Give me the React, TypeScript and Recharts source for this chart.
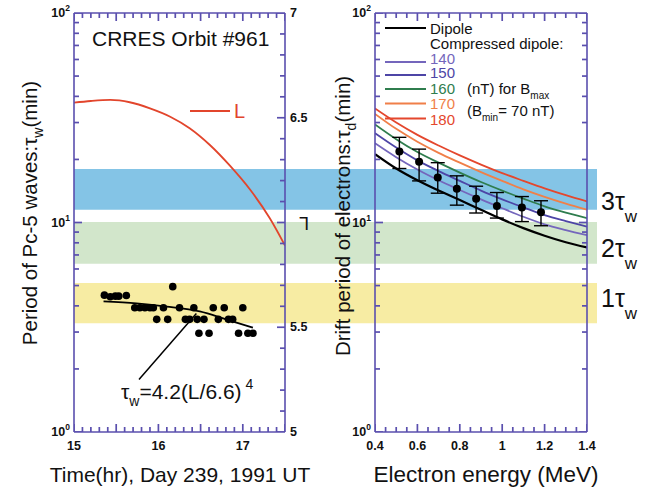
import React from 'react';
import { ComposedChart, Line, Scatter, XAxis, YAxis, ReferenceArea, ErrorBar } from 'recharts';

const W = 666;
const H = 493;
const FONT = '"Liberation Sans", Arial, Helvetica, sans-serif';
const AXIS = '#5a4fae';
const ORBIT_COLOR = '#e2452c';

// shaded ranges: 1, 2 and 3 wave periods (min)
const bandLow = [3.3, 6.35, 11.5];
const bandHigh = [5.15, 10.05, 18.0];
const bandColors = ['#f7eca3', '#d2e6cb', '#84c4e6'];
const bandTexts = ['1', '2', '3'];

// left panel: L value along CRRES orbit #961
const orbitTime = [15.0, 15.2, 15.43, 15.66, 15.9, 16.14, 16.37, 16.61, 16.85, 17.09, 17.32, 17.5];
const orbitL = [6.572, 6.58, 6.585, 6.574, 6.545, 6.505, 6.45, 6.37, 6.27, 6.155, 6.02, 5.89];

// observed Pc-5 wave periods (min)
const waveTime = [
  15.36, 15.43, 15.49, 15.53, 15.62,
  16.17,
  15.72, 15.78, 15.84, 15.9, 15.94, 16.06, 16.25, 16.42, 16.65, 16.78, 17.0,
  15.98, 16.11, 16.32, 16.37, 16.46, 16.54, 16.71, 16.83, 16.88,
  16.48, 16.6, 16.95, 17.06, 17.12,
];
const wavePeriod = [
  4.5, 4.42, 4.45, 4.45, 4.48,
  4.94,
  3.92, 3.92, 3.92, 3.92, 3.92, 3.92, 3.92, 3.92, 3.92, 3.92, 3.92,
  3.45, 3.45, 3.45, 3.45, 3.45, 3.45, 3.45, 3.45, 3.45,
  2.96, 2.96, 2.96, 2.96, 2.96,
];

// fit tau_w = 4.2 (L/6.6)^4
const fitTime = [15.35, 15.74, 16.1, 16.49, 16.81, 17.12];
const fitPeriod = [4.2, 4.11, 3.97, 3.76, 3.44, 3.15];

// leader line from the fit to its formula
const leaderTime = [16.45, 15.77];
const leaderPeriod = [3.68, 1.78];

// right panel: drift periods (min) vs electron energy (MeV)
const energy = [0.4, 0.5, 0.6, 0.7, 0.8, 0.9, 1.0, 1.1, 1.2, 1.3, 1.4];
const dipole = [21.2, 18.1, 15.9, 14.2, 12.8, 11.5, 10.35, 9.4, 8.65, 8.05, 7.6];
const comp140 = [23.9, 20.5, 17.9, 15.9, 14.3, 12.9, 11.7, 10.65, 9.8, 9.2, 8.7];
const comp150 = [26.7, 22.8, 19.8, 17.6, 15.8, 14.2, 12.9, 11.8, 10.85, 10.15, 9.55];
const comp160 = [29.4, 25.0, 21.7, 19.3, 17.3, 15.6, 14.2, 13.0, 11.95, 11.15, 10.5];
const comp170 = [33.0, 28.0, 24.3, 21.5, 19.3, 17.4, 15.8, 14.4, 13.25, 12.3, 11.5];
const comp180 = [35.0, 30.0, 26.2, 23.3, 20.9, 18.9, 17.2, 15.8, 14.55, 13.5, 12.6];
const curveNames = ['Dipole', '140', '150', '160', '170', '180'];
const curveColors = ['#000000', '#7466bc', '#4d45a6', '#2f7d4e', '#f07f48', '#e4472d'];

const measEnergy = [0.515, 0.608, 0.696, 0.786, 0.877, 0.975, 1.093, 1.183];
const measDrift = [21.8, 19.5, 16.4, 14.5, 13.0, 12.0, 11.8, 11.2];
const measLow = [18.1, 15.8, 13.8, 12.1, 11.1, 10.5, 10.1, 9.65];
const measHigh = [25.5, 22.4, 19.3, 16.7, 14.9, 13.9, 13.3, 12.7];

// axis ticks
const tauMajor = [1, 10, 100];
const tauExp = ['0', '1', '2'];
const timeLabels = [15, 16, 17];
const lLabels = [5, 5.5, 6.5, 7];
const energyLabels = [0.4, 0.6, 0.8, 1, 1.2, 1.4];
const energyTexts = ['0.4', '0.6', '0.8', '1', '1.2', '1.4'];

const stepTicks = (from: number, to: number, step: number) => {
  const n = Math.round((to - from) / step);
  const out: number[] = [];
  for (let i = 0; i <= n; i++) out.push(Math.round((from + i * step) * 1000) / 1000);
  return out;
};
const tauTicks = [...stepTicks(1, 9, 1), ...stepTicks(10, 100, 10)];
const timeTicks = stepTicks(15, 17.5, 0.1);
const lTicks = stepTicks(5, 7, 0.1);
const energyTicks = stepTicks(0.4, 1.4, 0.05);

const near = (a: number, b: number) => Math.abs(a - b) < 1e-6;
const findIdx = (arr: number[], v: number) => arr.findIndex((a) => near(a, v));
const isMultiple = (v: number, s: number) => near(v / s, Math.round(v / s));
const isTauMajor = (v: number) => findIdx(tauMajor, v) >= 0;
const isTimeMajor = (v: number) => isMultiple(v, 0.5);
const isLMajor = (v: number) => isMultiple(v, 0.5);
const isEnergyMajor = (v: number) => isMultiple(v, 0.2);

type Side = 'left' | 'right' | 'top' | 'bottom';
type LabelFn = (v: number, x: number, y: number) => React.ReactNode;

// axis labels only; the tick marks are drawn by scatter series sitting on the frame
const labelTick = (label?: LabelFn) => (props: any) => {
  const v = Number(props.payload.value);
  const node = label ? label(v, Number(props.x), Number(props.y)) : null;
  return <g>{node}</g>;
};

const tickText = { fontFamily: FONT, fontSize: 12.5, fontWeight: 700, fill: '#111' };

const powLabel: LabelFn = (v, x, y) => {
  const i = findIdx(tauMajor, v);
  if (i < 0) return null;
  return (
    <text x={x - 4} y={y + 4} textAnchor="end" {...tickText}>
      10<tspan dy={-6} fontSize={8.5}>{tauExp[i]}</tspan>
    </text>
  );
};
const timeLabel: LabelFn = (v, x, y) =>
  findIdx(timeLabels, v) < 0 ? null : (
    <text x={x} y={y + 18} textAnchor="middle" {...tickText}>{String(v)}</text>
  );
const lLabel: LabelFn = (v, x, y) => {
  if (near(v, 6)) {
    return (
      <text x={x + 19} y={y} textAnchor="middle" dominantBaseline="central" transform={`rotate(180 ${x + 19} ${y})`}
        fontFamily={FONT} fontSize={18} fill="#111">L</text>
    );
  }
  return findIdx(lLabels, v) < 0 ? null : (
    <text x={x + 5} y={y + 4} textAnchor="start" {...tickText}>{String(v)}</text>
  );
};
const energyLabel: LabelFn = (v, x, y) => {
  const i = findIdx(energyLabels, v);
  return i < 0 ? null : (
    <text x={x} y={y + 18} textAnchor="middle" {...tickText}>{energyTexts[i]}</text>
  );
};

const axisLine = { stroke: AXIS, strokeWidth: 1.6 };
const common = { tickSize: 0, tickMargin: 0, tickLine: false, interval: 0 as const, allowDataOverflow: true, axisLine };

// inward tick mark drawn at a point on the frame
const markShape = (side: Side) => (p: any) => {
  const len = (p.payload && p.payload.len) || p.len || 5;
  const cx = Number(p.cx);
  const cy = Number(p.cy);
  const dx = side === 'left' ? len : side === 'right' ? -len : 0;
  const dy = side === 'bottom' ? -len : side === 'top' ? len : 0;
  return <path d={`M${cx},${cy}L${cx + dx},${cy + dy}`} stroke={AXIS} strokeWidth={1.7} fill="none" />;
};

const frameMarks = (
  side: Side, xId: string, yId: string, values: number[], fixed: number, isMajor: (v: number) => boolean,
) => {
  const horizontal = side === 'top' || side === 'bottom';
  const data = values.map((v) => ({ x: horizontal ? v : fixed, y: horizontal ? fixed : v, len: isMajor(v) ? 8 : 5 }));
  return (
    <Scatter key={`marks-${side}-${yId}`} xAxisId={xId} yAxisId={yId} data={data} dataKey="y"
      shape={markShape(side)} isAnimationActive={false} />
  );
};

const dotShape = (r: number) => (p: any) => <circle cx={p.cx} cy={p.cy} r={r} fill="#000" />;

const toPoints = (xs: number[], ys: number[]) => xs.map((x, i) => ({ x, y: ys[i] }));

function Bands() {
  return (
    <ComposedChart width={W} height={H} margin={{ top: 13, right: 69, bottom: 61, left: 74 }} data={[{ x: 0 }, { x: 1 }]}>
      <XAxis xAxisId="b" dataKey="x" type="number" domain={[0, 1]} hide />
      <YAxis yAxisId="b" type="number" scale="log" domain={[1, 100]} allowDataOverflow hide />
      {bandLow.map((lo, i) => (
        <ReferenceArea key={bandTexts[i]} xAxisId="b" yAxisId="b" x1={0} x2={1} y1={lo} y2={bandHigh[i]}
          fill={bandColors[i]} fillOpacity={1} stroke="none" />
      ))}
    </ComposedChart>
  );
}

function LeftPanel() {
  const orbit = toPoints(orbitTime, orbitL);
  const waves = toPoints(waveTime, wavePeriod);
  const fit = toPoints(fitTime, fitPeriod);
  const leader = toPoints(leaderTime, leaderPeriod);
  return (
    <ComposedChart width={W} height={H} margin={{ top: 8, right: 341, bottom: 31, left: 14 }}>
      <XAxis xAxisId="b" dataKey="x" type="number" domain={[15, 17.5]} ticks={timeTicks} height={30} {...common}
        tick={labelTick(timeLabel)} />
      <XAxis xAxisId="t" orientation="top" dataKey="x" type="number" domain={[15, 17.5]} ticks={[15, 17.5]} height={5} {...common}
        tick={false} />
      <YAxis yAxisId="tau" dataKey="y" type="number" scale="log" domain={[1, 100]} ticks={tauTicks} width={60} {...common}
        tick={labelTick(powLabel)} />
      <YAxis yAxisId="L" orientation="right" dataKey="y" type="number" domain={[5, 7]} ticks={lTicks} width={40} {...common}
        tick={labelTick(lLabel)} />
      {frameMarks('bottom', 'b', 'tau', timeTicks, 1, isTimeMajor)}
      {frameMarks('top', 'b', 'tau', timeTicks, 100, isTimeMajor)}
      {frameMarks('left', 'b', 'tau', tauTicks, 15, isTauMajor)}
      {frameMarks('right', 'b', 'L', lTicks, 17.5, isLMajor)}
      <Line xAxisId="b" yAxisId="L" data={orbit} dataKey="y" type="monotone" stroke={ORBIT_COLOR} strokeWidth={1.8}
        dot={false} isAnimationActive={false} />
      <Line xAxisId="b" yAxisId="tau" data={fit} dataKey="y" type="monotone" stroke="#000" strokeWidth={1.8}
        dot={false} isAnimationActive={false} />
      <Line xAxisId="b" yAxisId="tau" data={leader} dataKey="y" type="linear" stroke="#000" strokeWidth={1.5}
        dot={false} isAnimationActive={false} />
      <Scatter xAxisId="b" yAxisId="tau" data={waves} dataKey="y" shape={dotShape(3.8)} isAnimationActive={false} />
    </ComposedChart>
  );
}

function RightPanel() {
  const curves = [dipole, comp140, comp150, comp160, comp170, comp180];
  const meas = measEnergy.map((x, i) => ({
    x,
    y: measDrift[i],
    err: [measDrift[i] - measLow[i], measHigh[i] - measDrift[i]],
  }));
  return (
    <ComposedChart width={W} height={H} margin={{ top: 8, right: 69, bottom: 31, left: 315 }}>
      <XAxis xAxisId="b" dataKey="x" type="number" domain={[0.4, 1.4]} ticks={energyTicks} height={30} {...common}
        tick={labelTick(energyLabel)} />
      <XAxis xAxisId="t" orientation="top" dataKey="x" type="number" domain={[0.4, 1.4]} ticks={[0.4, 1.4]} height={5} {...common}
        tick={false} />
      <YAxis yAxisId="tau" dataKey="y" type="number" scale="log" domain={[1, 100]} ticks={tauTicks} width={60} {...common}
        tick={labelTick(powLabel)} />
      <YAxis yAxisId="r" orientation="right" dataKey="y" type="number" scale="log" domain={[1, 100]} ticks={[1, 100]} width={10} {...common}
        tick={false} />
      {frameMarks('bottom', 'b', 'tau', energyTicks, 1, isEnergyMajor)}
      {frameMarks('top', 'b', 'tau', energyTicks, 100, isEnergyMajor)}
      {frameMarks('left', 'b', 'tau', tauTicks, 0.4, isTauMajor)}
      {frameMarks('right', 'b', 'tau', tauTicks, 1.4, isTauMajor)}
      {curves.map((vals, i) => (
        <Line key={curveNames[i]} xAxisId="b" yAxisId="tau" data={toPoints(energy, vals)} dataKey="y" type="monotone"
          stroke={curveColors[i]} strokeWidth={i === 0 ? 2.2 : 1.8} dot={false} isAnimationActive={false} />
      ))}
      <Scatter xAxisId="b" yAxisId="tau" data={meas} dataKey="y" shape={dotShape(4)} isAnimationActive={false}>
        <ErrorBar dataKey="err" direction="y" width={7} stroke="#000" strokeWidth={1.4} />
      </Scatter>
    </ComposedChart>
  );
}

function Annotations() {
  const txt = { fontFamily: FONT, fill: '#111' };
  const legendY = [28, 62, 75, 89, 103.5, 118.5];
  const legendTextY = [33.5, 63.5, 78, 94, 109, 124.5];
  return (
    <svg width={W} height={H} style={{ position: 'absolute', left: 0, top: 0, pointerEvents: 'none' }}>
      <text x={92} y={46} fontSize={21} {...txt}>CRRES Orbit #961</text>
      <line x1={190} y1={111} x2={230} y2={111} stroke={ORBIT_COLOR} strokeWidth={1.8} />
      <text x={234} y={118} fontSize={20} fontFamily={FONT} fill={ORBIT_COLOR}>L</text>

      <text x={121} y={399} fontSize={21} {...txt}>
        τ<tspan dy={7} fontSize={14}>w</tspan>
        <tspan dy={-7}>=4.2(L/6.6)</tspan>
        <tspan dy={-10} dx={4} fontSize={14}>4</tspan>
      </text>

      {curveNames.map((name, i) => (
        <g key={name}>
          <line x1={385} y1={legendY[i]} x2={426} y2={legendY[i]} stroke={curveColors[i]} strokeWidth={i === 0 ? 2 : 1.8} />
          <text x={430} y={legendTextY[i]} fontSize={15} fontFamily={FONT} fill={i === 0 ? '#111' : curveColors[i]}>{name}</text>
        </g>
      ))}
      <text x={430} y={48.5} fontSize={15} {...txt}>Compressed dipole:</text>
      <text x={467} y={94} fontSize={15} {...txt}>
        (nT) for B<tspan dy={5} fontSize={10}>max</tspan>
      </text>
      <text x={467} y={116} fontSize={15} {...txt}>
        (B<tspan dy={5} fontSize={10}>min</tspan><tspan dy={-5}>= 70 nT)</tspan>
      </text>

      {[210, 257, 307].map((y, i) => (
        <text key={y} x={601} y={y} fontSize={25} {...txt}>
          {bandTexts[2 - i]}τ<tspan dy={12} fontSize={17}>w</tspan>
        </text>
      ))}

      <text transform="rotate(-90)" x={-213} y={37} textAnchor="middle" fontSize={20.5} {...txt}>
        Period of Pc-5 waves:τ<tspan dy={6} fontSize={14}>w</tspan><tspan dy={-6}>(min)</tspan>
      </text>
      <text transform="rotate(-90)" x={-216} y={350} textAnchor="middle" fontSize={20.5} {...txt}>
        Drift period of electrons:τ<tspan dy={6} fontSize={14}>d</tspan><tspan dy={-6}>(min)</tspan>
      </text>
      <text x={180} y={482} textAnchor="middle" fontSize={21} {...txt}>Time(hr), Day 239, 1991 UT</text>
      <text x={486} y={482} textAnchor="middle" fontSize={22.5} {...txt}>Electron energy (MeV)</text>
    </svg>
  );
}

export default function App() {
  const layer: React.CSSProperties = { position: 'absolute', left: 0, top: 0 };
  return (
    <div style={{ position: 'absolute', left: 0, top: 0, width: W, height: H, background: '#fff', overflow: 'hidden' }}>
      <div style={layer}><Bands /></div>
      <div style={layer}><LeftPanel /></div>
      <div style={layer}><RightPanel /></div>
      <Annotations />
    </div>
  );
}
